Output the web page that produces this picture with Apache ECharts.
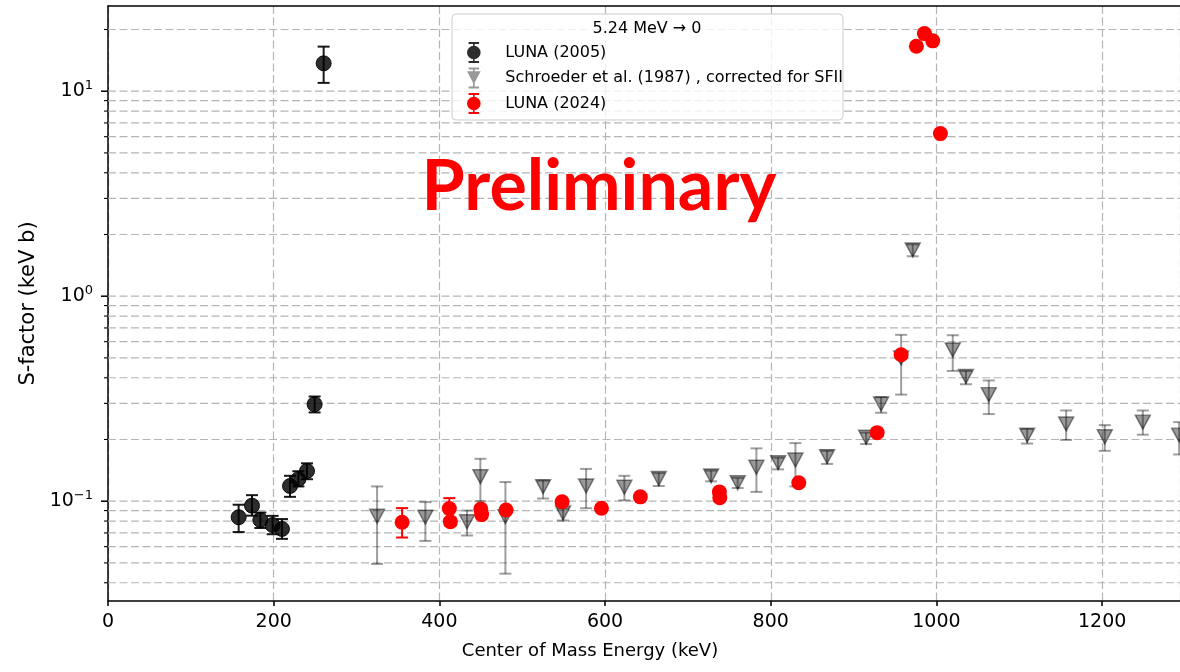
<!DOCTYPE html>
<html>
<head>
<meta charset="utf-8">
<script src="https://cdn.jsdelivr.net/npm/echarts@6/dist/echarts.min.js"></script>
<style>
html,body{margin:0;padding:0;background:#fff;}
#chart{width:1180px;height:672px;}
</style>
</head>
<body>
<div id="chart"></div>
<script>
// ---- data: [energy keV, S-factor, lower, upper] ----
const luna2005 = [
  [157.7, 0.0835, 0.0707, 0.0961],
  [173.8, 0.0951, 0.0850, 0.1070],
  [183.9, 0.0810, 0.0740, 0.0880],
  [198.7, 0.0765, 0.0690, 0.0848],
  [210.0, 0.0732, 0.0655, 0.0818],
  [219.7, 0.1186, 0.1050, 0.1330],
  [229.8, 0.1280, 0.1180, 0.1400],
  [240.2, 0.1404, 0.1280, 0.1530],
  [249.4, 0.2970, 0.2710, 0.3240],
  [260.3, 13.68, 10.98, 16.50]
];
const schroeder1987 = [
  [324.8, 0.0844, 0.0494, 0.1180],
  [383.1, 0.0835, 0.0640, 0.0990],
  [433.4, 0.0794, 0.0680, 0.0900],
  [449.5, 0.1317, 0.1000, 0.1610],
  [479.7, 0.0840, 0.0443, 0.1240],
  [525.2, 0.1177, 0.1030, 0.1260],
  [549.3, 0.0875, 0.0805, 0.0920],
  [577.1, 0.1186, 0.0924, 0.1437],
  [623.3, 0.1170, 0.1010, 0.1330],
  [664.8, 0.1290, 0.1186, 0.1370],
  [728.0, 0.1327, 0.1250, 0.1410],
  [760.1, 0.1230, 0.1160, 0.1300],
  [782.7, 0.1463, 0.1110, 0.1810],
  [808.9, 0.1540, 0.1430, 0.1630],
  [829.8, 0.1588, 0.1180, 0.1920],
  [868.0, 0.1650, 0.1520, 0.1760],
  [915.1, 0.2050, 0.1900, 0.2160],
  [933.2, 0.2980, 0.2700, 0.3220],
  [957.4, 0.5000, 0.3310, 0.6480],
  [971.4, 1.682, 1.566, 1.790],
  [1019.7, 0.547, 0.432, 0.645],
  [1035.6, 0.406, 0.372, 0.432],
  [1063.2, 0.331, 0.266, 0.388],
  [1109.5, 0.210, 0.191, 0.225],
  [1156.6, 0.238, 0.199, 0.277],
  [1203.2, 0.206, 0.176, 0.235],
  [1249.1, 0.243, 0.211, 0.277],
  [1293.0, 0.210, 0.169, 0.243]
];
const luna2024 = [
  [355.0, 0.0789, 0.0665, 0.0925],
  [412.0, 0.0920, 0.0820, 0.1035],
  [413.3, 0.0794, 0.0760, 0.0830],
  [450.0, 0.0915, 0.0880, 0.0950],
  [451.0, 0.0860, 0.0830, 0.0890],
  [480.5, 0.0906, 0.0880, 0.0935],
  [548.1, 0.0994, 0.0965, 0.1025],
  [595.6, 0.0923, 0.0895, 0.0950],
  [642.6, 0.1050, 0.1020, 0.1080],
  [738.0, 0.1110, 0.1075, 0.1145],
  [738.5, 0.1040, 0.1005, 0.1075],
  [833.8, 0.1230, 0.1195, 0.1265],
  [928.4, 0.2160, 0.2100, 0.2220],
  [957.4, 0.5180, 0.5020, 0.5340],
  [975.8, 16.56, 16.05, 17.08],
  [985.5, 19.10, 18.50, 19.70],
  [995.5, 17.60, 17.05, 18.15],
  [1004.8, 6.21, 6.02, 6.40]
];
const seriesNames = ['LUNA (2005)', 'Schroeder et al. (1987) , corrected for SFII', 'LUNA (2024)'];
const legendTitle = '5.24 MeV \u2192 0';
const watermark = 'Preliminary';
const xTitle = 'Center of Mass Energy (keV)';
const yTitle = 'S-factor (keV b)';
const yGridValues = [0.04,0.05,0.06,0.07,0.08,0.09,0.1,0.2,0.3,0.4,0.5,0.6,0.7,0.8,0.9,1,2,3,4,5,6,7,8,9,10,20];
const yMajorTicks = [0.1, 1, 10];
const yMinorTicks = [0.04,0.05,0.06,0.07,0.08,0.09,0.2,0.3,0.4,0.5,0.6,0.7,0.8,0.9,2,3,4,5,6,7,8,9,20];

const X_MIN = 0, X_MAX = 1294, X_STEP = 200;
const Y_MIN = 0.03259, Y_MAX = 26.04;
const FONT = 'DejaVu Sans';
const GRID_COLOR = '#b5b5b5';

const chart = echarts.init(document.getElementById('chart'), null, {renderer: 'canvas'});

function errorBarSeries(name, data, color, width, capHalf) {
  return {
    type: 'custom', name: name + ' err', z: 2, silent: true,
    data: data,
    encode: {x: 0, y: 1},
    renderItem: function (params, api) {
      const x = api.value(0);
      const pLo = api.coord([x, api.value(2)]);
      const pHi = api.coord([x, api.value(3)]);
      const st = {stroke: color, lineWidth: width};
      return {type: 'group', children: [
        {type: 'line', shape: {x1: pLo[0], y1: pLo[1], x2: pHi[0], y2: pHi[1]}, style: st},
        {type: 'line', shape: {x1: pLo[0]-capHalf, y1: pLo[1], x2: pLo[0]+capHalf, y2: pLo[1]}, style: st},
        {type: 'line', shape: {x1: pHi[0]-capHalf, y1: pHi[1], x2: pHi[0]+capHalf, y2: pHi[1]}, style: st}
      ]};
    }
  };
}

const iconCircleErr = 'path://M6.2,0 L7.8,0 L7.8,20 L6.2,20 Z M2,0 L12,0 L12,1.8 L2,1.8 Z M2,18.2 L12,18.2 L12,20 L2,20 Z M0.5,10 A6.5,6.5 0 1,1 13.5,10 A6.5,6.5 0 1,1 0.5,10 Z';
const iconTriErr = 'path://M6.2,0 L7.8,0 L7.8,20 L6.2,20 Z M2,0 L12,0 L12,1.8 L2,1.8 Z M2,18.2 L12,18.2 L12,20 L2,20 Z M0.5,3.5 L13.5,3.5 L7,16 Z';

const option = {
  animation: false,
  backgroundColor: '#fff',
  grid: {left: 108, right: 0, top: 6, bottom: 71, containLabel: false},
  xAxis: [{
    type: 'value', min: X_MIN, max: X_MAX, interval: X_STEP,
    name: xTitle, nameLocation: 'middle', nameGap: 41,
    nameTextStyle: {fontFamily: FONT, fontSize: 18, color: '#000', padding: [0, 108, 0, 0]},
    axisLine: {show: true, lineStyle: {color: '#000', width: 1.5}},
    axisTick: {show: true, length: 5, lineStyle: {color: '#000', width: 1.5}},
    axisLabel: {fontFamily: FONT, fontSize: 19, color: '#000', margin: 12, showMaxLabel: false,
                formatter: function (v) { return String(v); }},
    splitLine: {show: true, lineStyle: {color: GRID_COLOR, type: [8, 3.5], width: 1.2}}
  }, {
    type: 'value', position: 'top', min: X_MIN, max: X_MAX,
    axisLine: {show: true, onZero: false, lineStyle: {color: '#000', width: 1.5}},
    axisTick: {show: false}, axisLabel: {show: false}, splitLine: {show: false}
  }],
  yAxis: {
    type: 'log', logBase: 10, min: Y_MIN, max: Y_MAX,
    name: yTitle, nameLocation: 'middle', nameGap: 63, nameRotate: 90,
    nameTextStyle: {fontFamily: FONT, fontSize: 21, color: '#000'},
    axisLine: {show: true, lineStyle: {color: '#000', width: 1.5}},
    axisTick: {show: false},
    splitLine: {show: false},
    axisLabel: {
      margin: 15,
      formatter: function (v) {
        const l = Math.log10(v);
        const e = Math.round(l);
        if (Math.abs(l - e) > 1e-6) return '';
        return '{b|10}{s|' + (e < 0 ? '\u2212' + (-e) : String(e)) + '}';
      },
      rich: {
        b: {fontFamily: FONT, fontSize: 19, color: '#000', lineHeight: 24},
        s: {fontFamily: FONT, fontSize: 13, color: '#000', lineHeight: 14, verticalAlign: 'top'}
      }
    }
  },
  legend: {
    orient: 'vertical', left: 467, top: 42, padding: 0,
    itemWidth: 15, itemHeight: 21, itemGap: 4.5,
    textStyle: {fontFamily: FONT, fontSize: 16, color: '#000', padding: [0, 0, 0, 19]},
    itemStyle: {borderWidth: 0},
    selectedMode: false,
    data: [
      {name: seriesNames[0], icon: iconCircleErr},
      {name: seriesNames[1], icon: iconTriErr},
      {name: seriesNames[2], icon: iconCircleErr}
    ]
  },
  graphic: [
    {type: 'rect', z: 3, shape: {x: 452, y: 14, width: 391, height: 106, r: 4},
     style: {fill: 'rgba(255,255,255,0.8)', stroke: '#cccccc', lineWidth: 1}},
    {type: 'text', z: 5, x: 647, y: 29,
     style: {text: legendTitle, fontFamily: FONT, fontSize: 16, fill: '#000', textAlign: 'center', textVerticalAlign: 'middle'}},
    {type: 'text', z: 10, x: 599, y: 187,
     style: {text: watermark, fontFamily: 'Lato', fontWeight: 'bold', fontSize: 70, fill: '#ff0000', textAlign: 'center', textVerticalAlign: 'middle'}}
  ],
  series: [
    {
      type: 'custom', name: 'ygrid', z: 1, silent: true,
      data: yGridValues.map(v => [v]),
      renderItem: function (params, api) {
        const v = api.value(0);
        const p0 = api.coord([X_MIN, v]);
        const p1 = api.coord([X_MAX, v]);
        return {type: 'line', shape: {x1: p0[0], y1: p0[1], x2: p1[0], y2: p1[1]},
                style: {stroke: GRID_COLOR, lineWidth: 1.2, lineDash: [8, 3.5]}};
      },
      encode: {y: 0}
    },
    {
      type: 'custom', name: 'yticks', z: 3, silent: true, clip: false,
      data: yMajorTicks.map(v => [v, 7]).concat(yMinorTicks.map(v => [v, 4])),
      renderItem: function (params, api) {
        const v = api.value(0);
        const len = api.value(1);
        const p = api.coord([X_MIN, v]);
        return {type: 'line', shape: {x1: p[0] - len, y1: p[1], x2: p[0], y2: p[1]},
                style: {stroke: '#000', lineWidth: len > 5 ? 1.5 : 1.1}};
      },
      encode: {y: 0}
    },
    errorBarSeries(seriesNames[0], luna2005, 'rgba(0,0,0,0.9)', 2, 6),
    {
      type: 'scatter', name: seriesNames[0], z: 2, data: luna2005.map(d => [d[0], d[1]]),
      symbol: 'circle', symbolSize: 15,
      itemStyle: {color: 'rgba(0,0,0,0.82)', borderColor: 'rgba(0,0,0,0.9)', borderWidth: 1, opacity: 1}
    },
    errorBarSeries(seriesNames[1], schroeder1987, 'rgba(0,0,0,0.38)', 2, 6),
    {
      type: 'scatter', name: seriesNames[1], z: 2, data: schroeder1987.map(d => [d[0], d[1]]),
      symbol: 'triangle', symbolRotate: 180, symbolSize: [15, 14],
      itemStyle: {color: 'rgba(0,0,0,0.4)', borderColor: 'rgba(0,0,0,0.45)', borderWidth: 1.5, opacity: 1}
    },
    errorBarSeries(seriesNames[2], luna2024, '#ff0000', 2, 6),
    {
      type: 'scatter', name: seriesNames[2], z: 2, data: luna2024.map(d => [d[0], d[1]]),
      symbol: 'circle', symbolSize: 15,
      itemStyle: {color: '#ff0000', opacity: 1}
    }
  ]
};
chart.setOption(option);
</script>
</body>
</html>
